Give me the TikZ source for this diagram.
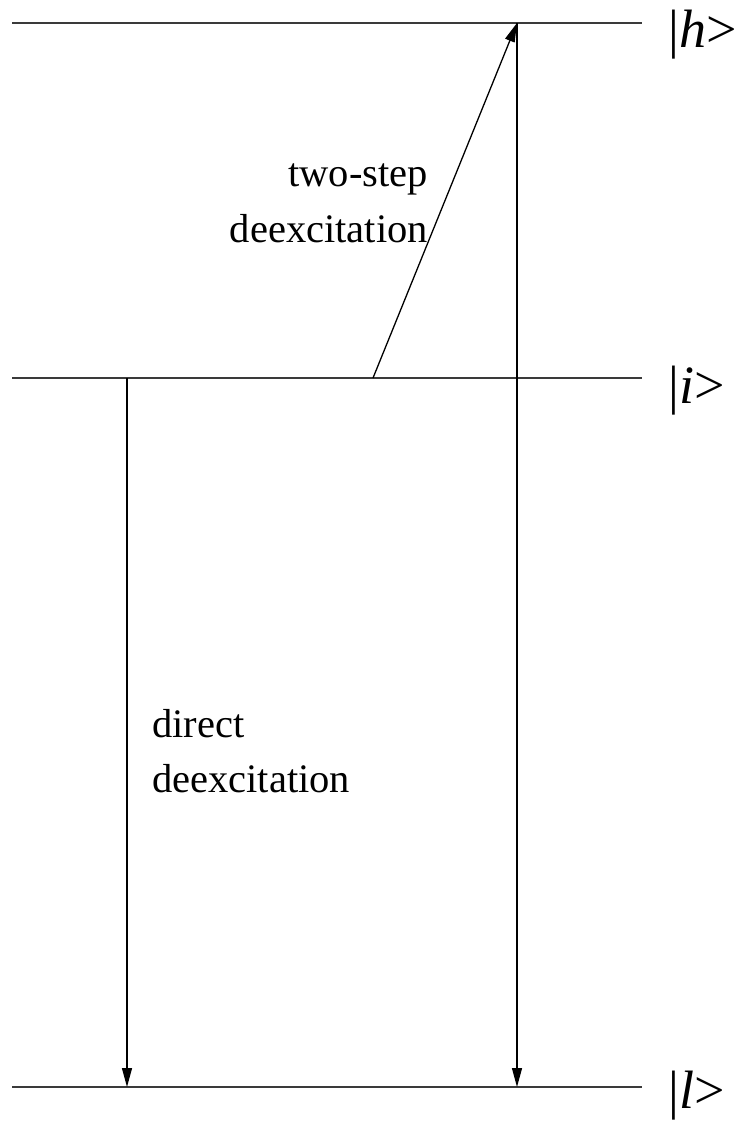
\documentclass[tikz,border=0pt]{standalone}
\usepackage{fontspec}
\setmainfont{Liberation Serif}
\usetikzlibrary{arrows.meta}
\definecolor{nivelGris}{HTML}{3A3A3A}

\begin{document}
\begin{tikzpicture}[x=1pt,y=-1pt,>={Triangle[length=19pt,width=10pt]},
  nivel/.style={nivelGris,line width=1.3pt},
  trans/.style={black,line width=1.3pt,->},
  estado/.style={anchor=base west,inner sep=0pt,font=\fontsize{54}{60}\selectfont},
  rotulo/.style={inner sep=0pt,font=\fontsize{40.5}{50}\selectfont}]
  \useasboundingbox (0,0) rectangle (743,1122);
  % energy levels
  \coordinate (hL) at (12,23);   \coordinate (hR) at (642,23);
  \coordinate (iL) at (12,378);  \coordinate (iR) at (642,378);
  \coordinate (lL) at (12,1087); \coordinate (lR) at (642,1087);
  \draw[nivel] (hL) -- (hR);
  \draw[nivel] (iL) -- (iR);
  \draw[nivel] (lL) -- (lR);
  \node[estado] (kh) at (668,47) {|\textit{h}>};
  \node[estado] (ki) at (668,403) {|\textit{i}>};
  \node[estado] (kl) at (668,1108) {|\textit{l}>};
  % transitions
  \coordinate (Pi) at (127,378);  \coordinate (Pl) at (127,1087);
  \coordinate (Qh) at (517,23);   \coordinate (Ql) at (517,1087);
  \coordinate (Ri) at (373,378);
  \draw[trans] (Pi) -- (Pl);
  \draw[trans] (Qh) -- (Ql);
  \draw[trans] (Ri) -- (Qh);
  \node[rotulo,anchor=base east] (dos) at (428,186) {two-step};
  \node[rotulo,anchor=base east] (dosb) at (428,242) {deexcitation};
  \node[rotulo,anchor=base west] (dir) at (152,737) {direct};
  \node[rotulo,anchor=base west] (dirb) at (152,792) {deexcitation};
\end{tikzpicture}
\end{document}
